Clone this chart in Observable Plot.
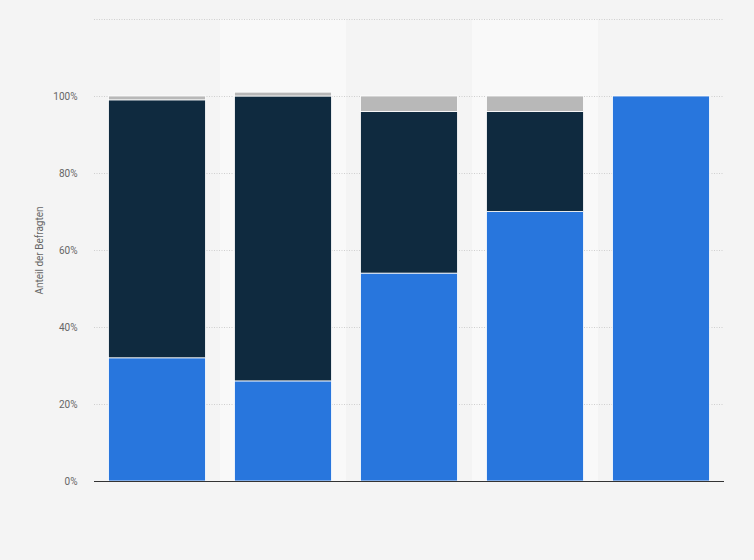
<!DOCTYPE html>
<html><head><meta charset="utf-8">
<script src="https://cdn.jsdelivr.net/npm/d3@7"></script>
<script src="https://cdn.jsdelivr.net/npm/@observablehq/plot@0.6"></script>
<style>
html,body{margin:0;padding:0;background:#f4f4f4;}
</style></head><body>
<div id="chart"></div>
<script>
const categories = ["1", "2", "3", "4", "5"];
const seriesNames = ["A", "B", "C"];
const seriesA = [32, 26, 54, 70, 100];
const seriesB = [67, 74, 42, 26, 0];
const seriesC = [1, 1, 4, 4, 0];
const colors = ["#2876dd", "#0f2a3f", "#b8b8b8"];
const yTicks = [0, 20, 40, 60, 80, 100];
const gridTicks = [20, 40, 60, 80, 100, 120];
const shaded = ["2", "4"];

const rows = [];
[seriesA, seriesB, seriesC].forEach((vals, si) => {
  categories.forEach((c, i) => rows.push({cat: c, series: seriesNames[si], value: vals[i]}));
});

const chart = Plot.plot({
  width: 754,
  height: 560,
  marginLeft: 94,
  marginRight: 30,
  marginTop: 19,
  marginBottom: 79,
  style: {background: "#f4f4f4", fontFamily: "Roboto, 'Liberation Sans', Arial, sans-serif"},
  x: {domain: categories, padding: 0, axis: null},
  y: {domain: [0, 120], axis: null},
  color: {domain: seriesNames, range: colors},
  marks: [
    Plot.barY(shaded, {x: d => d, y1: 0, y2: 120, fill: "#f9f9f9"}),
    Plot.ruleY(gridTicks, {stroke: "#cfcfcf", strokeDasharray: "1,1.5", strokeWidth: 1}),
    Plot.barY(rows, {x: "cat", y: "value", fill: "series", stroke: "white", strokeWidth: 0.8, insetLeft: 14.5, insetRight: 14.5}),
    Plot.ruleY([0], {stroke: "#333", strokeWidth: 1}),
    Plot.axisY(yTicks, {tickSize: 0, tickPadding: 17, tickFormat: d => d + "%", fontSize: 10, fill: "#666", label: null}),
    Plot.text(["Anteil der Befragten"], {frameAnchor: "left", textAnchor: "middle", dx: -55, rotate: -90, fontSize: 10, fill: "#666"})
  ]
});
document.getElementById("chart").appendChild(chart);
</script>
</body></html>
